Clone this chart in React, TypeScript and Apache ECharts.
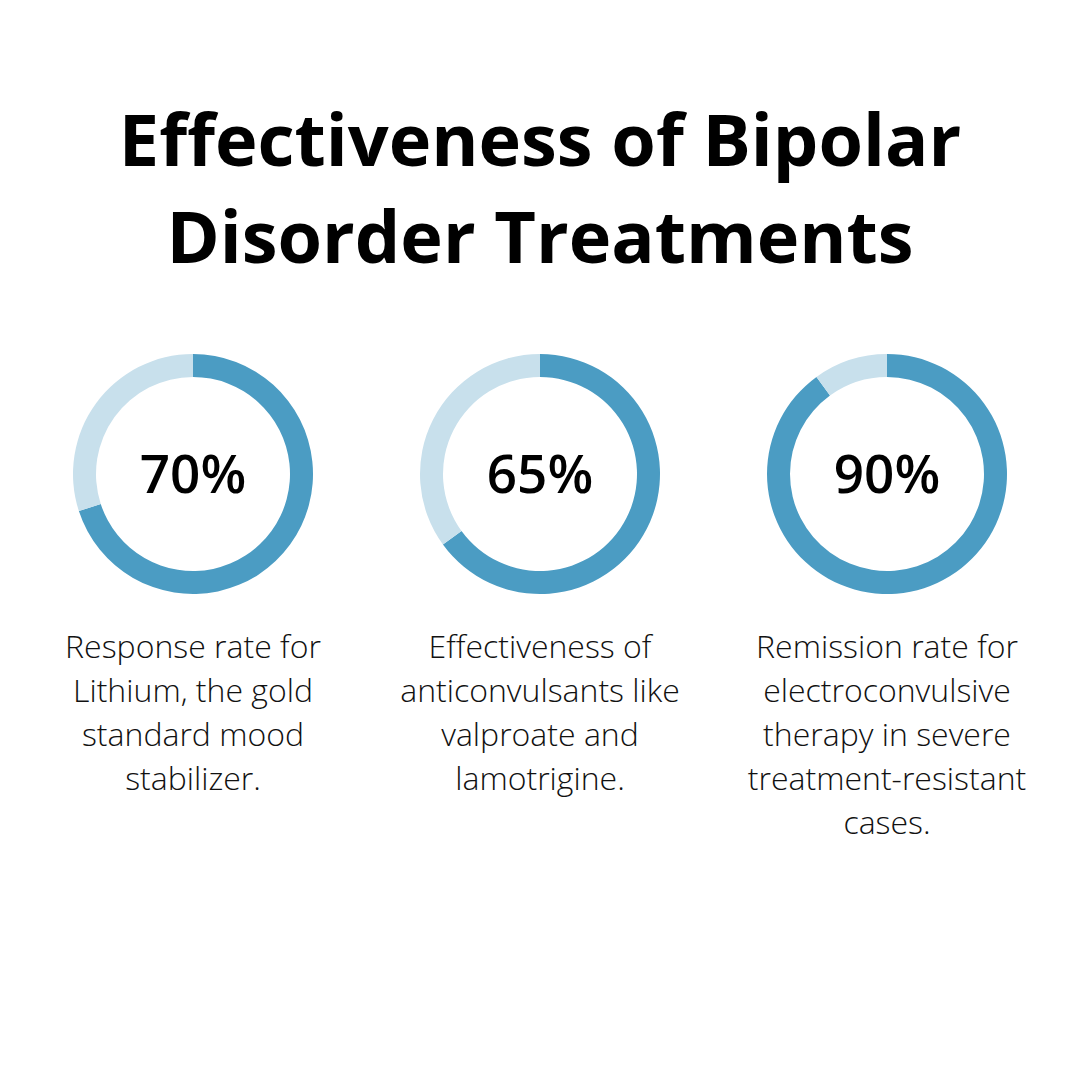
import React, { useEffect, useRef } from "react";
import * as echarts from "echarts";

const titleLines = ["Effectiveness of Bipolar", "Disorder Treatments"];
const values = [70, 65, 90];
const valueLabels = ["70%", "65%", "90%"];
const descriptions = [
  ["Response rate for", "Lithium, the gold", "standard mood", "stabilizer."],
  ["Effectiveness of", "anticonvulsants like", "valproate and", "lamotrigine."],
  ["Remission rate for", "electroconvulsive", "therapy in severe", "treatment-resistant", "cases."],
];

const centersX = [193, 540, 887];
const centerY = 474;
const DARK = "#4b9cc3";
const LIGHT = "#c8e0ec";
const FONT = "'Open Sans', sans-serif";

export default function App() {
  const ref = useRef<HTMLDivElement>(null);
  useEffect(() => {
    if (!ref.current) return;
    const chart = echarts.init(ref.current, undefined, { renderer: "svg" });
    const series = values.map((v, i) => ({
      type: "pie",
      center: [centersX[i], centerY],
      radius: [97, 120],
      startAngle: 90,
      clockwise: true,
      silent: true,
      label: { show: false },
      labelLine: { show: false },
      itemStyle: { borderWidth: 0 },
      data: [
        { value: v, itemStyle: { color: DARK } },
        { value: 100 - v, itemStyle: { color: LIGHT } },
      ],
    }));
    const graphics: any[] = [
      {
        type: "text",
        x: 540,
        y: 89,
        style: {
          text: titleLines.join("\n"),
          font: `bold 72px ${FONT}`,
          lineHeight: 97,
          fill: "#000",
          align: "center",
          verticalAlign: "top",
        },
      },
    ];
    values.forEach((_, i) => {
      graphics.push({
        type: "text",
        x: centersX[i],
        y: 472,
        style: {
          text: valueLabels[i],
          font: `600 53px ${FONT}`,
          fill: "#000",
          align: "center",
          verticalAlign: "middle",
        },
      });
      graphics.push({
        type: "text",
        x: centersX[i],
        y: 623,
        style: {
          text: descriptions[i].join("\n"),
          font: `300 32px ${FONT}`,
          lineHeight: 44,
          fill: "#111",
          align: "center",
          verticalAlign: "top",
        },
      });
    });
    chart.setOption({
      animation: false,
      backgroundColor: "#ffffff",
      series,
      graphic: graphics,
    });
    return () => chart.dispose();
  }, []);
  return (
    <div
      ref={ref}
      style={{ position: "absolute", left: 0, top: 0, width: 1080, height: 1070 }}
    />
  );
}
